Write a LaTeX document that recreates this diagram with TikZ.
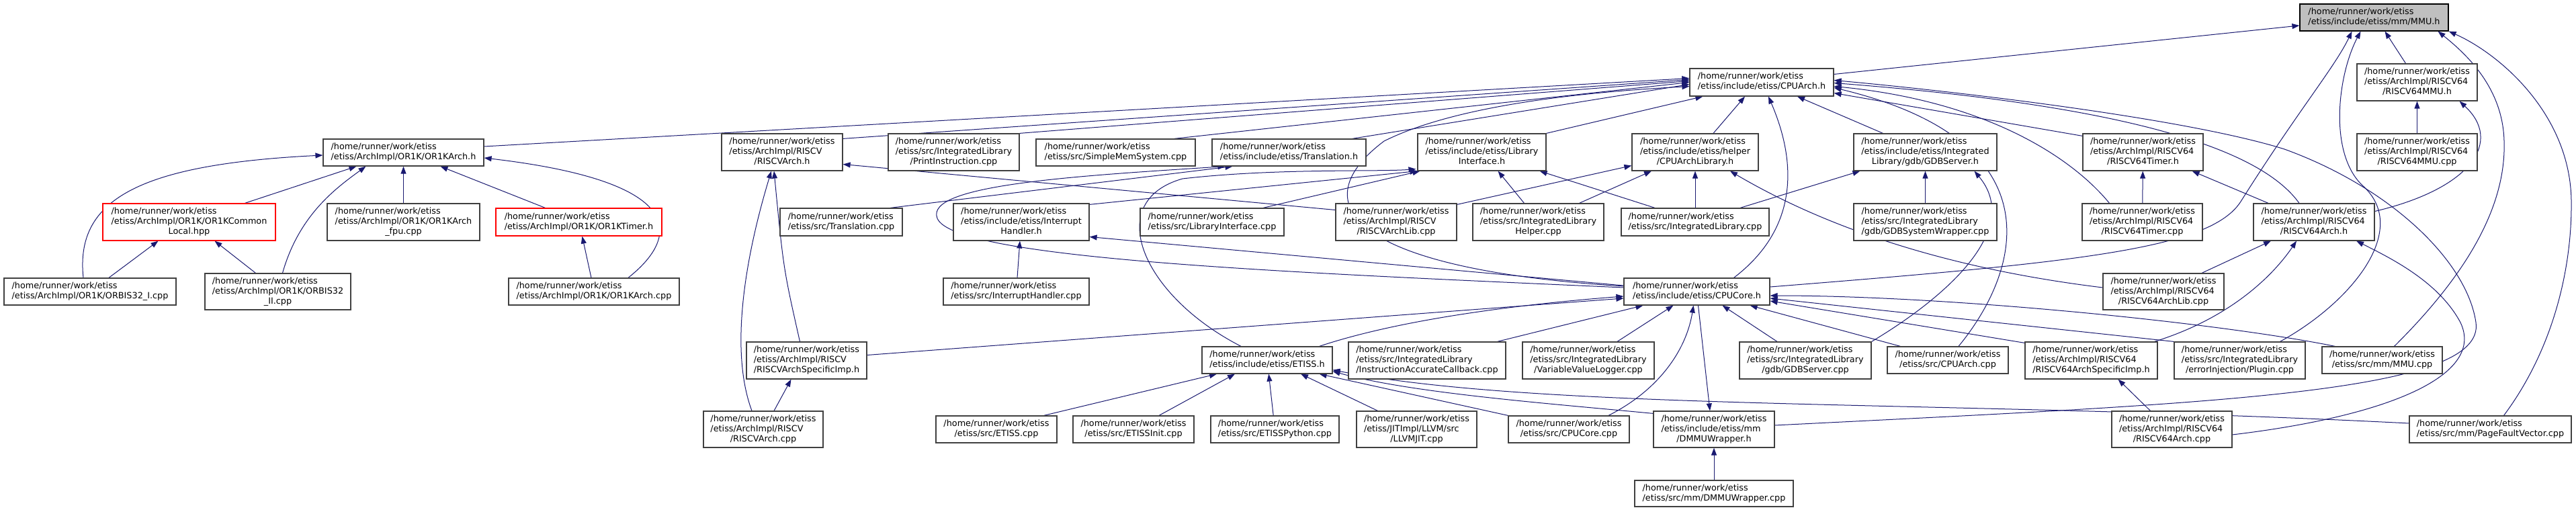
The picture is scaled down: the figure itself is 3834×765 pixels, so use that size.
\documentclass[tikz,border=0pt]{standalone}
\usepackage{fontspec}
\setmainfont{DejaVu Sans}
\definecolor{edgeblue}{RGB}{25, 25, 112}
\definecolor{boxline}{RGB}{64, 64, 64}
\definecolor{rootgray}{RGB}{191, 191, 191}
\usetikzlibrary{arrows.meta, backgrounds}
\newcommand{\twoline}[2]{\begin{tabular}{@{}l@{}}#1\\\multicolumn{1}{@{}c@{}}{#2}\end{tabular}}
\newcommand{\threeline}[3]{\begin{tabular}{@{}l@{}}#1\\#2\\\multicolumn{1}{@{}c@{}}{#3}\end{tabular}}
\newcommand{\hm}{/home/runner/work/etiss}

\begin{document}
\begin{tikzpicture}[
  x=1pt, y=-1pt,
  filebox/.style={draw=boxline, fill=white, line width=1.2pt, inner xsep=4pt, inner ysep=2pt, font=\fontsize{12.8}{15}\selectfont},
  rootfile/.style={filebox, draw=black, fill=rootgray},
  redfile/.style={filebox, draw=red},
  dims/.style 2 args={minimum width=#1pt, minimum height=#2pt},
  inc/.style={draw=edgeblue, line width=1pt, -{Triangle[length=11pt, width=8pt]}}
]
  \useasboundingbox (0,0) rectangle (3834,765);

  \node[rootfile, dims={221}{40}] (mmuh) at (3533.5,26) {\twoline{\hm}{/etiss/include/etiss/mm/MMU.h}};
  \node[filebox, dims={214}{41}] (cpuarchh) at (2622,122.5) {\twoline{\hm}{/etiss/include/etiss/CPUArch.h}};
  \node[filebox, dims={179}{55}] (rv64mmuh) at (3597.5,122.5) {\threeline{\hm}{/etiss/ArchImpl/RISCV64}{/RISCV64MMU.h}};

  \node[filebox, dims={239}{40}] (or1karchh) at (600.5,227) {\twoline{\hm}{/etiss/ArchImpl/OR1K/OR1KArch.h}};
  \node[filebox, dims={180}{55}] (rvarchh) at (1164,226.5) {\threeline{\hm}{/etiss/ArchImpl/RISCV}{/RISCVArch.h}};
  \node[filebox, dims={195}{55}] (printinstr) at (1419.5,226.5) {\threeline{\hm}{/etiss/src/IntegratedLibrary}{/PrintInstruction.cpp}};
  \node[filebox, dims={237}{40}] (simplemem) at (1660.5,227) {\twoline{\hm}{/etiss/src/SimpleMemSystem.cpp}};
  \node[filebox, dims={229}{40}] (translationh) at (1918.5,227) {\twoline{\hm}{/etiss/include/etiss/Translation.h}};
  \node[filebox, dims={191}{55}] (libifh) at (2205.5,226.5) {\threeline{\hm}{/etiss/include/etiss/Library}{Interface.h}};
  \node[filebox, dims={188}{55}] (cpuarchlibh) at (2523,226.5) {\threeline{\hm}{/etiss/include/etiss/helper}{/CPUArchLibrary.h}};
  \node[filebox, dims={213}{55}] (gdbserverh) at (2865.5,226.5) {\threeline{\hm}{/etiss/include/etiss/Integrated}{Library/gdb/GDBServer.h}};
  \node[filebox, dims={179}{55}] (rv64timerh) at (3189.5,226.5) {\threeline{\hm}{/etiss/ArchImpl/RISCV64}{/RISCV64Timer.h}};
  \node[filebox, dims={179}{55}] (rv64mmucpp) at (3597.5,226.5) {\threeline{\hm}{/etiss/ArchImpl/RISCV64}{/RISCV64MMU.cpp}};

  \node[redfile, dims={257}{55}] (or1kcommon) at (281.5,330.5) {\threeline{\hm}{/etiss/ArchImpl/OR1K/OR1KCommon}{Local.hpp}};
  \node[filebox, dims={227}{55}] (or1kfpu) at (600.5,330.5) {\threeline{\hm}{/etiss/ArchImpl/OR1K/OR1KArch}{\_fpu.cpp}};
  \node[redfile, dims={247}{41}] (or1ktimerh) at (861.5,330.5) {\twoline{\hm}{/etiss/ArchImpl/OR1K/OR1KTimer.h}};
  \node[filebox, dims={182}{41}] (translationcpp) at (1252,330.5) {\twoline{\hm}{/etiss/src/Translation.cpp}};
  \node[filebox, dims={202}{55}] (interrupth) at (1520,330.5) {\threeline{\hm}{/etiss/include/etiss/Interrupt}{Handler.h}};
  \node[filebox, dims={214}{41}] (libifcpp) at (1804,330.5) {\twoline{\hm}{/etiss/src/LibraryInterface.cpp}};
  \node[filebox, dims={180}{55}] (rvarchlib) at (2078,330.5) {\threeline{\hm}{/etiss/ArchImpl/RISCV}{/RISCVArchLib.cpp}};
  \node[filebox, dims={195}{55}] (intlibhelper) at (2289.5,330.5) {\threeline{\hm}{/etiss/src/IntegratedLibrary}{Helper.cpp}};
  \node[filebox, dims={220}{41}] (intlibcpp) at (2523,330.5) {\twoline{\hm}{/etiss/src/IntegratedLibrary.cpp}};
  \node[filebox, dims={213}{55}] (gdbsyswrap) at (2865.5,330.5) {\threeline{\hm}{/etiss/src/IntegratedLibrary}{/gdb/GDBSystemWrapper.cpp}};
  \node[filebox, dims={179}{55}] (rv64timercpp) at (3188.5,330.5) {\threeline{\hm}{/etiss/ArchImpl/RISCV64}{/RISCV64Timer.cpp}};
  \node[filebox, dims={180}{55}] (rv64archh) at (3444,330.5) {\threeline{\hm}{/etiss/ArchImpl/RISCV64}{/RISCV64Arch.h}};

  \node[filebox, dims={256}{40}] (orbis32i) at (134,434) {\twoline{\hm}{/etiss/ArchImpl/OR1K/ORBIS32\_I.cpp}};
  \node[filebox, dims={217}{54}] (orbis32ii) at (413.5,434) {\threeline{\hm}{/etiss/ArchImpl/OR1K/ORBIS32}{\_II.cpp}};
  \node[filebox, dims={254}{40}] (or1karchcpp) at (884,434) {\twoline{\hm}{/etiss/ArchImpl/OR1K/OR1KArch.cpp}};
  \node[filebox, dims={217}{40}] (interruptcpp) at (1512.5,434) {\twoline{\hm}{/etiss/src/InterruptHandler.cpp}};
  \node[filebox, dims={217}{40}] (cpucoreh) at (2525.5,434) {\twoline{\hm}{/etiss/include/etiss/CPUCore.h}};
  \node[filebox, dims={180}{54}] (rv64archlib) at (3220,434) {\threeline{\hm}{/etiss/ArchImpl/RISCV64}{/RISCV64ArchLib.cpp}};

  \node[filebox, dims={179}{55}] (rvspecimp) at (1200.5,536.5) {\threeline{\hm}{/etiss/ArchImpl/RISCV}{/RISCVArchSpecificImp.h}};
  \node[filebox, dims={194}{40}] (etissh) at (1886,536) {\twoline{\hm}{/etiss/include/etiss/ETISS.h}};
  \node[filebox, dims={234}{55}] (iacallback) at (2124,536.5) {\threeline{\hm}{/etiss/src/IntegratedLibrary}{/InstructionAccurateCallback.cpp}};
  \node[filebox, dims={196}{55}] (varlogger) at (2364,536.5) {\threeline{\hm}{/etiss/src/IntegratedLibrary}{/VariableValueLogger.cpp}};
  \node[filebox, dims={196}{55}] (gdbservercpp) at (2687,536.5) {\threeline{\hm}{/etiss/src/IntegratedLibrary}{/gdb/GDBServer.cpp}};
  \node[filebox, dims={180}{40}] (cpuarchcpp) at (2899,536) {\twoline{\hm}{/etiss/src/CPUArch.cpp}};
  \node[filebox, dims={197}{55}] (rv64specimp) at (3112.5,536.5) {\threeline{\hm}{/etiss/ArchImpl/RISCV64}{/RISCV64ArchSpecificImp.h}};
  \node[filebox, dims={195}{55}] (errinjplugin) at (3333.5,536.5) {\threeline{\hm}{/etiss/src/IntegratedLibrary}{/errorInjection/Plugin.cpp}};
  \node[filebox, dims={179}{40}] (mmucpp) at (3545.5,536) {\twoline{\hm}{/etiss/src/mm/MMU.cpp}};

  \node[filebox, dims={178}{54}] (rvarchcpp) at (1136,639) {\threeline{\hm}{/etiss/ArchImpl/RISCV}{/RISCVArch.cpp}};
  \node[filebox, dims={180}{40}] (etisscpp) at (1483,639) {\twoline{\hm}{/etiss/src/ETISS.cpp}};
  \node[filebox, dims={180}{40}] (etissinit) at (1687,639) {\twoline{\hm}{/etiss/src/ETISSInit.cpp}};
  \node[filebox, dims={191}{40}] (etisspython) at (1897.5,639) {\twoline{\hm}{/etiss/src/ETISSPython.cpp}};
  \node[filebox, dims={179}{54}] (llvmjit) at (2108.5,639) {\threeline{\hm}{/etiss/JITImpl/LLVM/src}{/LLVMJIT.cpp}};
  \node[filebox, dims={180}{40}] (cpucorecpp) at (2335,639) {\twoline{\hm}{/etiss/src/CPUCore.cpp}};
  \node[filebox, dims={180}{54}] (dmmuh) at (2551,639) {\threeline{\hm}{/etiss/include/etiss/mm}{/DMMUWrapper.h}};
  \node[filebox, dims={179}{54}] (rv64archcpp) at (3232.5,639) {\threeline{\hm}{/etiss/ArchImpl/RISCV64}{/RISCV64Arch.cpp}};
  \node[filebox, dims={241}{40}] (pagefault) at (3706.5,639) {\twoline{\hm}{/etiss/src/mm/PageFaultVector.cpp}};
  \node[filebox, dims={236}{39}] (dmmucpp) at (2551,734.5) {\twoline{\hm}{/etiss/src/mm/DMMUWrapper.cpp}};

  \begin{scope}[on background layer]
    % MMU.h
    \draw[inc] ([yshift=12pt]cpuarchh.east) -- ([yshift=-12pt]mmuh.west);
    \draw[inc] ([xshift=-17pt]rv64mmuh.north) -- ([xshift=16pt]mmuh.south);
    \draw[inc] ([yshift=7pt]cpucoreh.east) .. controls (3100,390) and (3290,370) .. (3335,300) .. controls (3420,165) and (3475,100) .. ([xshift=-33pt]mmuh.south);
    \draw[inc] ([xshift=60pt]errinjplugin.north) .. controls (3500,450) and (3590,340) .. (3515,275) .. controls (3465,225) and (3480,110) .. ([xshift=-20pt]mmuh.south);
    \draw[inc] ([xshift=18pt]mmucpp.north) .. controls (3680,400) and (3730,300) .. (3727,210) .. controls (3725,130) and (3670,80) .. ([xshift=95pt]mmuh.south);
    \draw[inc] ([xshift=20pt]pagefault.north) .. controls (3800,520) and (3828,400) .. (3827,300) .. controls (3826,170) and (3720,80) .. (mmuh.south east);

    % CPUArch.h
    \draw[inc] ([yshift=9pt]or1karchh.east) -- ([yshift=6pt]cpuarchh.west);
    \draw[inc] ([yshift=-8pt]rvarchh.north east) -- ([yshift=4pt]cpuarchh.west);
    \draw[inc] (printinstr.north east) -- ([yshift=2pt]cpuarchh.west);
    \draw[inc] ([xshift=-32pt]simplemem.north east) -- (cpuarchh.west);
    \draw[inc] ([xshift=-21pt]translationh.north east) -- ([yshift=-3pt]cpuarchh.west);
    \draw[inc] (libifh.north east) -- ([xshift=20pt]cpuarchh.south west);
    \draw[inc] ([yshift=8pt]cpucoreh.west) .. controls (2000,400) and (1940,300) .. (2060,210) .. controls (2180,150) and (2400,135) .. ([yshift=-6pt]cpuarchh.west);
    \draw[inc] ([xshift=27pt]cpuarchlibh.north) -- ([xshift=-25pt]cpuarchh.south);
    \draw[inc] ([xshift=55pt]cpucoreh.north) .. controls (2690,330) and (2665,220) .. ([xshift=10pt]cpuarchh.south);
    \draw[inc] ([xshift=-63pt]gdbserverh.north) -- ([xshift=53pt]cpuarchh.south);
    \draw[inc] ([xshift=16pt]cpuarchcpp.north) .. controls (3010,400) and (3060,210) .. ([yshift=-8pt]cpuarchh.east);
    \draw[inc] ([yshift=-4pt]rv64timerh.north west) -- ([yshift=-16pt]cpuarchh.east);
    \draw[inc] ([xshift=-49pt]rv64timercpp.north) .. controls (3080,230) and (2950,150) .. ([yshift=-6pt]cpuarchh.east);
    \draw[inc] ([xshift=-22pt]rv64archh.north) .. controls (3370,230) and (3200,160) .. ([yshift=-1pt]cpuarchh.east);
    \draw[inc] ([yshift=6pt]dmmuh.east) .. controls (3300,600) and (3700,585) .. (3685,480) .. controls (3672,390) and (3560,280) .. (3400,222) .. controls (3250,175) and (2900,135) .. ([yshift=3pt]cpuarchh.east);

    % OR1KArch.h, OR1KCommonLocal.hpp, OR1KTimer.h
    \draw[inc] ([xshift=-10pt]orbis32i.north) .. controls (112,300) and (200,245) .. ([yshift=-4pt]or1karchh.west);
    \draw[inc] ([xshift=83pt]or1kcommon.north) -- ([xshift=-70pt]or1karchh.south);
    \draw[inc] ([xshift=7pt]orbis32ii.north) .. controls (445,320) and (500,280) .. ([xshift=-56pt]or1karchh.south);
    \draw[inc] (or1kfpu) -- (or1karchh);
    \draw[inc] ([xshift=-50pt]or1ktimerh.north) -- ([xshift=55pt]or1karchh.south);
    \draw[inc] ([xshift=51pt]or1karchcpp.north) .. controls (1015,350) and (1020,270) .. ([yshift=-8pt]or1karchh.east);
    \draw[inc] ([xshift=28pt]orbis32i.north) -- ([xshift=-46pt]or1kcommon.south);
    \draw[inc] ([xshift=-33pt]orbis32ii.north) -- ([xshift=38pt]or1kcommon.south);
    \draw[inc] ([xshift=-4pt]or1karchcpp.north) -- ([xshift=5pt]or1ktimerh.south);

    % RISCVArch.h, RISCVArchSpecificImp.h
    \draw[inc] ([xshift=-10pt]rvspecimp.north) .. controls (1166,400) .. ([xshift=-12pt]rvarchh.south);
    \draw[inc] ([xshift=-17pt]rvarchcpp.north) .. controls (1085,520) and (1110,380) .. ([xshift=-16pt]rvarchh.south);
    \draw[inc] ([yshift=18pt]rvarchlib.west) -- ([yshift=-18pt]rvarchh.east);
    \draw[inc] ([xshift=16pt]rvarchcpp.north) -- ([xshift=-23pt]rvspecimp.south);

    % Translation.h, LibraryInterface.h, InterruptHandler.h
    \draw[inc] ([xshift=73pt]translationcpp.north) -- ([xshift=-84pt]translationh.south);
    \draw[inc] ([yshift=6pt]cpucoreh.west) .. controls (1900,405) and (1420,385) .. (1395,325) .. controls (1375,275) and (1600,262) .. ([xshift=-95pt]translationh.south);
    \draw[inc] ([yshift=-2pt]interrupth.north east) -- (libifh.south west);
    \draw[inc] ([xshift=76pt]libifcpp.north) -- ([xshift=4pt]libifh.south west);
    \draw[inc] ([xshift=-39pt]etissh.north) .. controls (1700,440) and (1640,300) .. (1760,266) .. controls (1900,250) and (2050,256) .. ([xshift=-2pt, yshift=3pt]libifh.south west);
    \draw[inc] ([xshift=-21pt]intlibhelper.north) -- ([xshift=24pt]libifh.south);
    \draw[inc] ([xshift=-60pt]intlibcpp.north) -- ([xshift=-10pt]libifh.south east);
    \draw[inc] (interruptcpp) -- (interrupth);
    \draw[inc] ([yshift=9pt]cpucoreh.west) -- ([yshift=-22pt]interrupth.east);

    % CPUArchLibrary.h, GDBServer.h
    \draw[inc] ([yshift=-2pt]rvarchlib.north east) -- ([yshift=-20pt]cpuarchlibh.west);
    \draw[inc] ([xshift=61pt]intlibhelper.north) -- ([xshift=-65pt]cpuarchlibh.south);
    \draw[inc] (intlibcpp) -- (cpuarchlibh);
    \draw[inc] ([yshift=6pt]rv64archlib.west) .. controls (2900,400) and (2720,340) .. ([xshift=52pt]cpuarchlibh.south);
    \draw[inc] ([xshift=67pt]intlibcpp.north) -- ([xshift=10pt]gdbserverh.south west);
    \draw[inc] (gdbsyswrap) -- (gdbserverh);
    \draw[inc] (gdbservercpp.north east) .. controls (2900,440) and (3010,340) .. ([xshift=73pt]gdbserverh.south);

    % RISCV64 files
    \draw[inc] (rv64timercpp) -- (rv64timerh);
    \draw[inc] ([xshift=-68pt]rv64archh.north) -- ([xshift=-17pt]rv64timerh.south east);
    \draw[inc] (rv64mmucpp) -- (rv64mmuh);
    \draw[inc] ([yshift=16pt]rv64archh.east) .. controls (3680,280) and (3725,210) .. ([xshift=63pt]rv64mmuh.south);
    \draw[inc] ([xshift=57pt]rv64archlib.north) -- ([xshift=-64pt]rv64archh.south);
    \draw[inc] ([xshift=-5pt]rv64specimp.north east) .. controls (3330,470) and (3390,400) .. ([xshift=-26pt]rv64archh.south);
    \draw[inc] ([yshift=-8pt]rv64archcpp.east) .. controls (3550,620) and (3700,560) .. (3662,480) .. controls (3630,420) and (3560,385) .. ([xshift=63pt]rv64archh.south);
    \draw[inc] ([xshift=-32pt]rv64archcpp.north) -- ([xshift=40pt]rv64specimp.south);

    % CPUCore.h
    \draw[inc] ([yshift=8pt]rvspecimp.east) -- ([yshift=-10pt]cpucoreh.west);
    \draw[inc] ([xshift=-20pt]etissh.north east) .. controls (2100,470) and (2300,450) .. ([yshift=-7pt]cpucoreh.west);
    \draw[inc] ([xshift=-13pt]iacallback.north east) -- ([xshift=-80pt]cpucoreh.south);
    \draw[inc] ([xshift=43pt]varlogger.north) -- ([xshift=-35pt]cpucoreh.south);
    \draw[inc] ([xshift=-42pt]gdbservercpp.north) -- ([xshift=38pt]cpucoreh.south);
    \draw[inc] ([xshift=20pt]cpuarchcpp.north west) -- ([xshift=-30pt]cpucoreh.south east);
    \draw[inc] ([yshift=-2pt]rv64specimp.north west) -- ([yshift=-14pt]cpucoreh.east);
    \draw[inc] (errinjplugin.north west) -- ([yshift=-10pt]cpucoreh.east);
    \draw[inc] ([xshift=20pt]mmucpp.north west) .. controls (3300,480) and (2900,440) .. ([yshift=-6pt]cpucoreh.east);
    \draw[inc] ([xshift=59pt]cpucorecpp.north) .. controls (2470,580) and (2510,520) .. ([xshift=-5pt]cpucoreh.south);

    % DMMUWrapper.h, ETISS.h
    \draw[inc] ([xshift=2pt]cpucoreh.south) -- ([xshift=-6pt]dmmuh.north);
    \draw[inc] (dmmucpp) -- (dmmuh);
    \draw[inc] ([xshift=-20pt]etisscpp.north east) -- ([xshift=-75pt]etissh.south);
    \draw[inc] ([xshift=38pt]etissinit.north) -- ([xshift=-48pt]etissh.south);
    \draw[inc] (etisspython) -- (etissh);
    \draw[inc] ([xshift=-58pt]llvmjit.north) -- ([xshift=50pt]etissh.south);
    \draw[inc] (cpucorecpp.north west) -- ([xshift=-20pt]etissh.south east);
    \draw[inc] ([yshift=-4pt]dmmuh.north west) .. controls (2300,600) and (2100,585) .. ([yshift=4pt]etissh.south east);
    \draw[inc] ([yshift=9pt]pagefault.west) .. controls (2900,595) and (2300,612) .. ([yshift=6pt]etissh.south east);
  \end{scope}
\end{tikzpicture}
\end{document}
